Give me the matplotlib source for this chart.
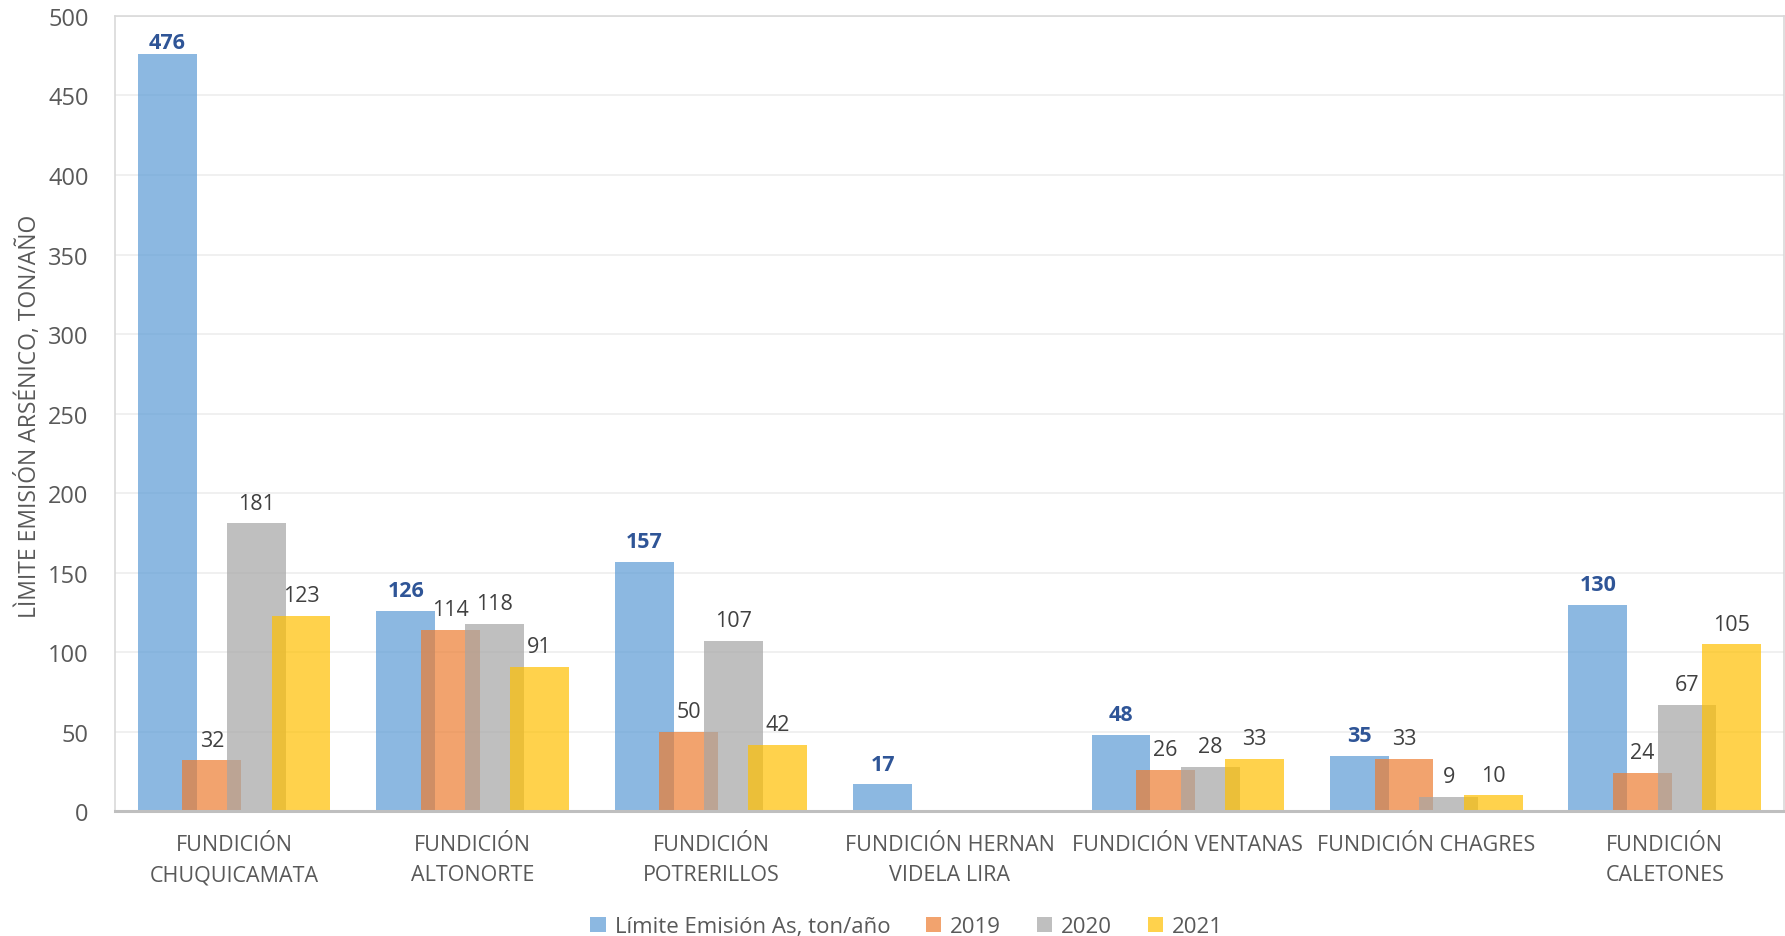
import numpy as np
import matplotlib
matplotlib.use("Agg")
import matplotlib.pyplot as plt

plt.rcParams['font.family'] = ['Open Sans', 'DejaVu Sans']

# datos
fundiciones = ['FUNDICIÓN\nCHUQUICAMATA', 'FUNDICIÓN\nALTONORTE', 'FUNDICIÓN\nPOTRERILLOS',
               'FUNDICIÓN HERNAN\nVIDELA LIRA', 'FUNDICIÓN VENTANAS', 'FUNDICIÓN CHAGRES',
               'FUNDICIÓN\nCALETONES']
limite = [476, 126, 157, 17, 48, 35, 130]
e2019 = [32, 114, 50, np.nan, 26, 33, 24]
e2020 = [181, 118, 107, np.nan, 28, 9, 67]
e2021 = [123, 91, 42, np.nan, 33, 10, 105]

series = [
    ('Límite Emisión As, ton/año', limite, '#5B9BD5'),
    ('2019', e2019, '#ED7D31'),
    ('2020', e2020, '#A5A5A5'),
    ('2021', e2021, '#FFC000'),
]

fig = plt.figure(figsize=(17.85, 9.37), dpi=100)
ax = fig.add_axes([0.0644, 0.133, 0.935, 0.849])

x = np.arange(len(fundiciones))
width = 0.247
step = 0.187

for i, (name, vals, col) in enumerate(series):
    pos = x + (i - 1.5) * step
    bars = ax.bar(pos, vals, width, color=col, alpha=0.7, label=name, zorder=2)
    vals = np.asarray(vals, float)
    labels = ['' if np.isnan(v) else f'{v:.0f}' for v in vals]
    if i == 0:
        txts = ax.bar_label(bars, labels=labels, padding=7, fontsize=15.5, fontweight='bold',
                            color='#2F5597', zorder=5)
        # la etiqueta más alta queda pegada al borde superior
        for t, v in zip(txts, vals):
            if v > 450:
                t.xyann = (0, 1)
    else:
        ax.bar_label(bars, labels=labels, padding=7, fontsize=15.5, color='#404040', zorder=5)

ax.set_xlim(-0.5, len(fundiciones) - 0.5)
ax.set_ylim(0, 500)
ax.set_yticks(np.arange(0, 501, 50))
ax.yaxis.grid(True, color='#EFEFEF', linewidth=1.3, zorder=0)
ax.set_axisbelow(True)

ax.set_xticks(x)
ax.set_xticklabels(fundiciones, fontsize=15.5, color='#595959', linespacing=1.6)
ax.tick_params(axis='x', length=0, pad=16)
ax.tick_params(axis='y', length=0, pad=19, labelsize=17, labelcolor='#595959')

for s in ['top', 'left', 'right']:
    ax.spines[s].set_color('#D9D9D9')
    ax.spines[s].set_linewidth(1.2)
ax.spines['bottom'].set_color('#BFBFBF')
ax.spines['bottom'].set_linewidth(2.2)

fig.text(0.016, 0.556, 'LÌMITE EMISIÓN ARSÉNICO, TON/AÑO', rotation=90, va='center', ha='center',
         fontsize=16.5, color='#595959')

fig.legend(loc='center', bbox_to_anchor=(0.508, 0.01), ncol=4, frameon=False,
           prop={'size': 16}, labelcolor='#595959',
           handlelength=0.7, handleheight=0.7, handletextpad=0.4, columnspacing=1.6)

fig.savefig('out.png', dpi=100, facecolor='white')
